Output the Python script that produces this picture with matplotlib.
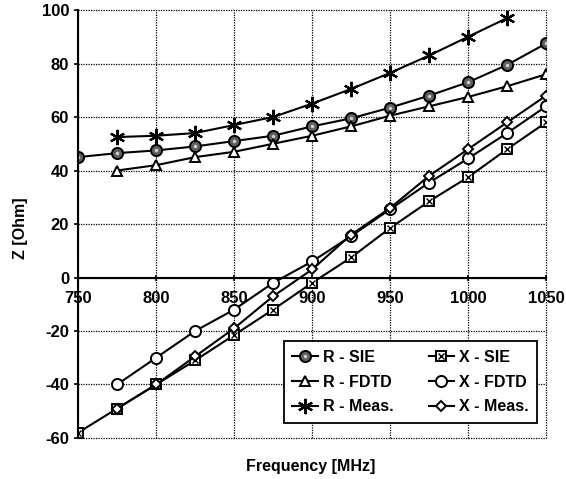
import matplotlib
matplotlib.use("Agg")
import matplotlib.pyplot as plt
from matplotlib.legend_handler import HandlerTuple

plt.rcParams['font.family'] = ['Liberation Sans', 'DejaVu Sans']
plt.rcParams['font.weight'] = 'bold'
plt.rcParams['axes.unicode_minus'] = False

freq = [750, 775, 800, 825, 850, 875, 900, 925, 950, 975, 1000, 1025, 1050]

r_sie = [45, 46.5, 47.5, 49, 51, 53, 56.5, 59.5, 63.5, 68, 73, 79.5, 87.5]
r_fdtd_f = [775, 800, 825, 850, 875, 900, 925, 950, 975, 1000, 1025, 1050]
r_fdtd = [40, 42, 45, 47, 50, 53, 56.5, 60.5, 64, 67.5, 71.5, 76]
r_meas_f = [775, 800, 825, 850, 875, 900, 925, 950, 975, 1000, 1025]
r_meas = [52.5, 53, 54, 57, 60, 65, 70.5, 76.5, 83, 90, 97]

x_sie = [-58, -49, -40, -31, -21.5, -12, -2, 7.5, 18.5, 28.5, 37.5, 48, 58]
x_fdtd_f = [775, 800, 825, 850, 875, 900, 925, 950, 975, 1000, 1025, 1050]
x_fdtd = [-40, -30, -20, -12, -2, 6, 15.5, 25.5, 35.5, 44.5, 54, 64]
x_meas_f = [775, 800, 825, 850, 875, 900, 925, 950, 975, 1000, 1025, 1050]
x_meas = [-49, -40, -29.5, -19, -7, 3, 16, 26, 38, 48, 58, 68]

fig = plt.figure(figsize=(5.66, 4.79), dpi=100)
ax = fig.add_axes([0.138, 0.0856, 0.827, 0.8935])

lw = 1.5
ms = 7
h_rsie, = ax.plot(freq, r_sie, color='black', lw=lw, marker='o', ms=ms + 1, mfc='#606060', mec='black', mew=1.4)
h_rsie_d, = ax.plot(freq, r_sie, ls='none', marker='o', ms=2.5, mfc='#d0d0d0', mec='none')
h_rfdtd, = ax.plot(r_fdtd_f, r_fdtd, color='black', lw=lw, marker='^', ms=ms, mfc='white', mec='black', mew=1.4)
h_rmeas, = ax.plot(r_meas_f, r_meas, color='black', lw=lw, marker=(6, 2, 0), ms=11, mec='black', mew=1.6)
h_xsie, = ax.plot(freq, x_sie, color='black', lw=lw, marker='s', ms=ms, mfc='white', mec='black', mew=1.4)
h_xsie_x, = ax.plot(freq, x_sie, ls='none', marker='x', ms=4, mec='black', mew=1.0)
h_xfdtd, = ax.plot(x_fdtd_f, x_fdtd, color='black', lw=lw, marker='o', ms=ms + 1, mfc='white', mec='black', mew=1.4)
h_xmeas, = ax.plot(x_meas_f, x_meas, color='black', lw=lw, marker='D', ms=5.5, mfc='white', mec='black', mew=1.4)

ax.set_xlim(750, 1050)
ax.set_ylim(-60, 100)
ax.set_xticks([750, 800, 850, 900, 950, 1000, 1050])
ax.set_yticks(range(-60, 101, 20))

ax.spines['bottom'].set_position(('data', 0))
ax.spines['bottom'].set_linewidth(1.5)
ax.spines['left'].set_linewidth(1.5)
ax.spines['top'].set_visible(False)
ax.spines['right'].set_visible(False)
ax.grid(True, color='black', ls=(0, (1, 1)), lw=0.9)
ax.set_axisbelow(True)
for gl in ax.get_xgridlines() + ax.get_ygridlines():
    gl.set_clip_on(False)
ax.tick_params(axis='both', labelsize=12, length=3, width=1.2)
ax.tick_params(axis='x', pad=8, direction='inout', length=4)
for lab in ax.get_xticklabels() + ax.get_yticklabels():
    lab.set_fontweight('bold')

handles = [(h_rsie, h_rsie_d), h_rfdtd, h_rmeas, (h_xsie, h_xsie_x), h_xfdtd, h_xmeas]
labels = ['R - SIE', 'R - FDTD', 'R - Meas.', 'X - SIE', 'X - FDTD', 'X - Meas.']
leg = ax.legend(handles, labels, ncol=2, loc='lower right', bbox_to_anchor=(0.981, 0.035),
                borderaxespad=0,
                handler_map={tuple: HandlerTuple(ndivide=1, pad=0)},
                prop={'weight': 'bold', 'size': 11.5}, frameon=True, fancybox=False,
                edgecolor='black', framealpha=1, handlelength=1.6, handletextpad=0.3,
                columnspacing=2.2, borderpad=0.55, labelspacing=0.6)
leg.get_frame().set_linewidth(1.3)

fig.text(311 / 566, 1 - 467 / 479, 'Frequency [MHz]', ha='center', va='center',
         fontsize=11.5, fontweight='bold')
fig.text(20 / 566, 1 - 228 / 479, 'Z [Ohm]', ha='center', va='center', rotation=90,
         fontsize=11.5, fontweight='bold')

fig.savefig('out.png', dpi=100)
